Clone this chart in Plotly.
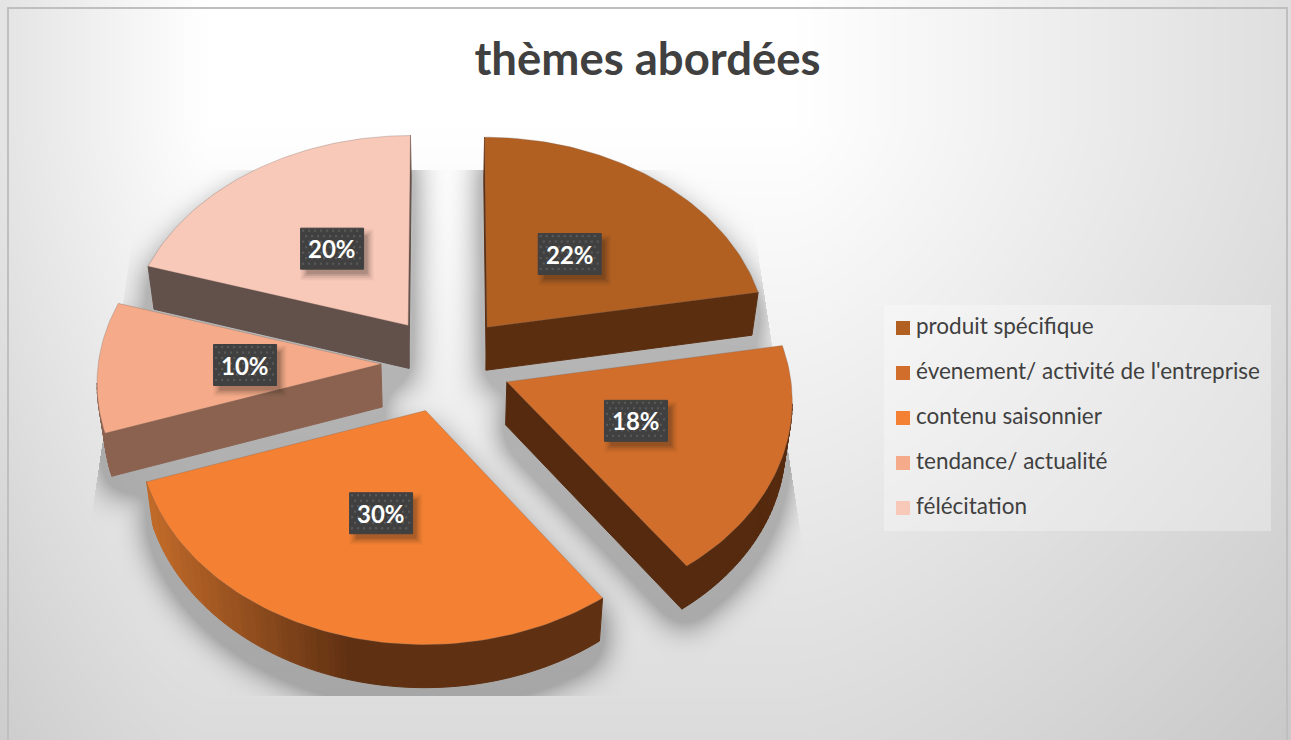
import numpy as np
import plotly.graph_objects as go

# Chart content
title_text = "thèmes abordées"
categories = ["produit spécifique", "évenement/ activité de l'entreprise",
              "contenu saisonnier", "tendance/ actualité", "félécitation"]
shares = [22, 18, 30, 10, 20]

# Slice styling
top_colors = ["#B26022", "#D26E2B", "#F48133", "#F5AA89", "#F8C8B9"]
side_colors = ["#5C2E10", "#552A0E", "#5F3012", "#8B6250", "#62504A"]
arc_gradient_from = {2: "#C46C2A"}

# Projection of the pie plane onto the page
W, H = 1291, 740
CX, CY = 446.0, 367.0
RX, RY = 283.0, 210.0
PERSPECTIVE = 0.0642
EXPLODE = 0.23
APEX_LIFT = 3.0
DEPTH_PX = 43.0
BASE_SHRINK = 0.98


def project(theta, radius, mid):
    """Page position of a point on a slice pulled out along its bisector."""
    u = radius * np.sin(theta) + EXPLODE * np.sin(mid)
    v = -radius * np.cos(theta) - EXPLODE * np.cos(mid)
    s = 1.0 / (1.0 - PERSPECTIVE * v)
    return CX + RX * u * s, CY + RY * v * s


def base_of(x, y):
    return CX + (x - CX) * BASE_SHRINK, y + DEPTH_PX


def hex_rgb(c):
    return np.array([int(c[i:i + 2], 16) for i in (1, 3, 5)], float)


def rgb_hex(a):
    return "#%02X%02X%02X" % tuple(int(round(v)) for v in a)


def fill_polygon(mask, xs, ys):
    """Even-odd scanline fill into a boolean page mask."""
    xs, ys = np.asarray(xs, float), np.asarray(ys, float)
    x2, y2 = np.roll(xs, -1), np.roll(ys, -1)
    for row in range(max(0, int(ys.min())), min(mask.shape[0], int(ys.max()) + 2)):
        yc = row + 0.5
        hit = (ys <= yc) != (y2 <= yc)
        if not hit.any():
            continue
        cross = np.sort(xs[hit] + (yc - ys[hit]) * (x2[hit] - xs[hit]) / (y2[hit] - ys[hit]))
        for a, b in zip(cross[::2], cross[1::2]):
            mask[row, max(0, int(round(a))):max(0, int(round(b)))] = True


def box_blur(a, r):
    for axis in (0, 1):
        pad = [(0, 0), (0, 0)]
        pad[axis] = (r + 1, r)
        c = np.cumsum(np.pad(a, pad, mode="edge"), axis=axis)
        hi = np.take(c, range(2 * r + 1, c.shape[axis]), axis=axis)
        lo = np.take(c, range(0, c.shape[axis] - 2 * r - 1), axis=axis)
        a = (hi - lo) / (2 * r + 1)
    return a


# Slice outlines derived from the shares
total = float(sum(shares))
slices = []
start = 0.0
for i, share in enumerate(shares):
    sweep = 2 * np.pi * share / total
    mid = start + sweep / 2
    thetas = np.linspace(start, start + sweep, max(8, int(share * 3)))
    ax, ay = project(mid, 0.0, mid)
    px, py = project(thetas, 1.0, mid)
    top_x = np.concatenate([[ax], px])
    top_y = np.concatenate([[ay - APEX_LIFT], py])
    slices.append(dict(i=i, mid=mid, top_x=top_x, top_y=top_y))
    start += sweep


def side_faces(sl):
    """Extruded faces whose outward normal points down the page."""
    faces = []
    x, y = sl["top_x"], sl["top_y"]
    n = len(x)
    for k in range(n):
        j = (k + 1) % n
        # Outline runs clockwise on the page, so its outward normal is (dy, -dx)
        if -(x[j] - x[k]) > 0.01:
            bx1, by1 = base_of(x[k], y[k])
            bx2, by2 = base_of(x[j], y[j])
            faces.append((k, [x[k], x[j], bx2, bx1], [y[k], y[j], by2, by1]))
    return faces


# Page background: soft grey falloff plus the pie's cast shadow
yy, xx = np.mgrid[0:H, 0:W]
dx_left = np.clip(210 - xx, 0, None) * 0.13
dx_right = np.clip(xx - 790, 0, None) * 0.065
dy_down = np.clip(yy - 120, 0, None) * 0.058
grey = 255 - ((dx_left + dx_right) ** 1.5 + dy_down ** 1.5) ** (2 / 3)

SHADOW_DROP = 18
shadow_src = np.zeros((H, W), bool)
for sl in slices:
    fill_polygon(shadow_src, sl["top_x"], sl["top_y"] + SHADOW_DROP)
    for _, fx, fy in side_faces(sl):
        fill_polygon(shadow_src, fx, np.array(fy) + SHADOW_DROP)
soft = box_blur(box_blur(box_blur(shadow_src.astype(float), 14), 14), 13)
soft = np.clip(soft * 2.5, 0, 1) ** 0.85
left_clip = 142 - (yy - 170) * 0.147
right_clip = 745 + (yy - 170) * 0.152
inside = (yy >= 170) & (yy <= 695) & (xx >= left_clip) & (xx <= right_clip)
grey = grey * (1 - 0.25 * soft * inside)

# Translucent panel behind the legend
panel = (xx >= 884) & (xx < 1271) & (yy >= 305) & (yy < 531)
grey = np.where(panel, grey + 0.3 * (255 - grey), grey)

fig = go.Figure()
fig.add_trace(go.Heatmap(
    z=np.round(grey).astype(np.uint8), x0=0.5, dx=1, y0=0.5, dy=1,
    zmin=0, zmax=255, colorscale=[[0, "#000000"], [1, "#FFFFFF"]],
    showscale=False, hoverinfo="skip"))


def add_poly(xs, ys, color, line=None):
    fig.add_trace(go.Scatter(
        x=xs, y=ys, mode="lines", fill="toself", fillcolor=color,
        line=dict(color=line or color, width=1),
        hoverinfo="skip", showlegend=False))


# Paint from the back of the pie to the front
for sl in sorted(slices, key=lambda s: -np.cos(s["mid"])):
    i = sl["i"]
    buckets = {}
    n_outline = len(sl["top_x"])
    for k, fx, fy in side_faces(sl):
        color = side_colors[i]
        on_arc = 0 < k < n_outline - 1
        if i in arc_gradient_from and on_arc:
            left = sl["top_x"][n_outline - 1]
            t = np.clip((np.mean(fx) - left) / 205.0, 0, 1)
            t = round(t * 28) / 28
            color = rgb_hex(hex_rgb(arc_gradient_from[i]) * (1 - t) + hex_rgb(side_colors[i]) * t)
        bx, by = buckets.setdefault(color, ([], []))
        bx.extend(fx + [fx[0], None])
        by.extend(fy + [fy[0], None])
    for color, (bx, by) in buckets.items():
        add_poly(bx, by, color)
    add_poly(list(sl["top_x"]) + [sl["top_x"][0]], list(sl["top_y"]) + [sl["top_y"][0]],
             top_colors[i], "rgba(120,100,90,0.3)")

# Percentage tags sit halfway out along each slice
LABEL_R = 0.48
TAG_W, TAG_H = 63.0, 41.0
for sl in slices:
    lx, ly = project(sl["mid"], LABEL_R, sl["mid"])
    ly -= 2
    x0, x1, y0, y1 = lx - TAG_W / 2, lx + TAG_W / 2, ly - TAG_H / 2, ly + TAG_H / 2
    for grow, alpha in ((5, 0.05), (3, 0.08), (1, 0.12), (-1, 0.16)):
        add_poly([x0 + 5 - grow, x1 + 5 + grow, x1 + 5 + grow, x0 + 5 - grow, x0 + 5 - grow],
                 [y0 + 6 - grow, y0 + 6 - grow, y1 + 6 + grow, y1 + 6 + grow, y0 + 6 - grow],
                 "rgba(40,30,25,%g)" % alpha, "rgba(0,0,0,0)")
    add_poly([x0, x1, x1, x0, x0], [y0, y0, y1, y1, y0], "#404040")
    dots_x, dots_y = [], []
    for row, dy in enumerate(np.arange(y0 + 2.5, y1, 5.5)):
        for dx in np.arange(x0 + 2.5 + (row % 2) * 3, x1 - 1, 6):
            dots_x.append(dx)
            dots_y.append(dy)
    fig.add_trace(go.Scatter(x=dots_x, y=dots_y, mode="markers", hoverinfo="skip", showlegend=False,
                             marker=dict(symbol="square", size=2.2, color="#585858")))
    fig.add_annotation(x=lx, y=ly, text="<b>%d%%</b>" % shares[sl["i"]], showarrow=False,
                       font=dict(family="Lato", size=24, color="#FFFFFF"))

# Legend panel: swatch and name for each category
LEGEND_X, LEGEND_TEXT_X, LEGEND_Y, LEGEND_STEP = 903.0, 916.0, 328.0, 45.0
for n, (name, color) in enumerate(zip(categories, top_colors)):
    row_y = LEGEND_Y + n * LEGEND_STEP
    fig.add_trace(go.Scatter(
        x=[LEGEND_X], y=[row_y], mode="markers", hoverinfo="skip", showlegend=False,
        marker=dict(symbol="square", size=14, color=color)))
    fig.add_trace(go.Scatter(
        x=[LEGEND_TEXT_X], y=[row_y], mode="text", text=[name],
        textposition="middle right", hoverinfo="skip", showlegend=False,
        textfont=dict(family="Lato", size=22.5, color="#404040")))

fig.update_layout(
    width=W, height=H, margin=dict(l=0, r=0, t=0, b=0), autosize=False,
    paper_bgcolor="#FFFFFF", plot_bgcolor="#FFFFFF", showlegend=False,
    xaxis=dict(visible=False, range=[0, W], fixedrange=True),
    yaxis=dict(visible=False, range=[H, 0], fixedrange=True),
    title=dict(text="<b>%s</b>" % title_text, x=647.5 / W, xanchor="center",
               y=1 - 59 / H, yanchor="middle",
               font=dict(family="Lato", size=45.5, color="#404040")),
    shapes=[
        dict(type="rect", xref="x", yref="y", x0=8, x1=1287, y0=8, y1=760,
             fillcolor="rgba(0,0,0,0)", line=dict(color="#BFBFBF", width=2), layer="above"),
    ],
)

fig.write_html("out.html")
